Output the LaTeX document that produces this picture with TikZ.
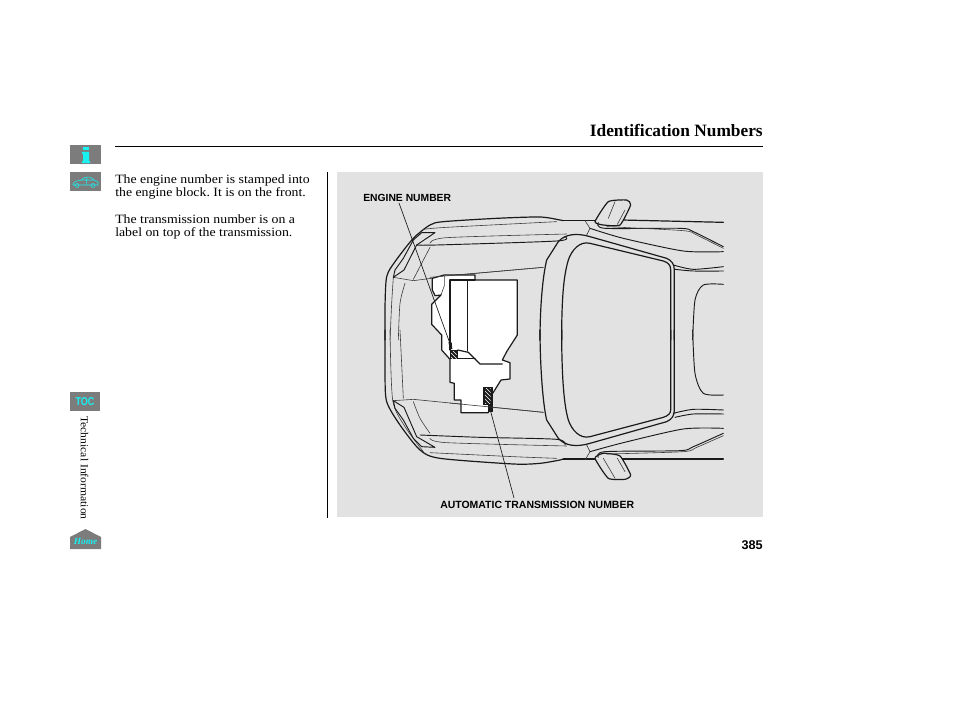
\documentclass[tikz,border=0pt]{standalone}
\usepackage{fontspec}
\setmainfont{Liberation Serif}
\newfontfamily\bodyfont[FakeStretch=1.09]{Liberation Serif}
\newfontfamily\labelfont{Liberation Sans}
\usetikzlibrary{patterns}
\definecolor{panel}{HTML}{E2E2E2}
\definecolor{icongrey}{HTML}{7C7C7C}
\definecolor{iconcyan}{HTML}{19F0F0}
\definecolor{ink}{HTML}{1A1A1A}
\frenchspacing
\tikzset{
  thickline/.style={draw=ink,line width=.9pt,line join=round,line cap=round},
  midline/.style={draw=ink,line width=.7pt,line join=round,line cap=round},
  thinline/.style={draw=ink!85,line width=.45pt,line join=round,line cap=round},
  leader/.style={draw=ink,line width=.5pt},
  body/.style={anchor=north west,inner sep=0pt,align=left,font=\bodyfont\fontsize{9.5}{10}\selectfont},
  partlabel/.style={inner sep=0pt,font=\labelfont\bfseries\fontsize{7.75}{8}\selectfont},
  icon/.style={fill=icongrey,draw=none},
  curve/.style={smooth,tension=.45}
}
\begin{document}
\begin{tikzpicture}[x=.75pt,y=-.75pt]
\useasboundingbox[fill=white] (0,0) rectangle (954,710);
\fill[panel] (337,172) rectangle (763,517);
\node[anchor=base east,inner sep=0pt,font=\bfseries\fontsize{13}{14}\selectfont] (title) at (763,137) {Identification Numbers};
\coordinate (ruleL) at (115,146.5); \coordinate (ruleR) at (763,146.5);
\draw[line width=.75pt] (ruleL) -- (ruleR);
\coordinate (vruleT) at (327.5,172); \coordinate (vruleB) at (327.5,518);
\draw[line width=.75pt] (vruleT) -- (vruleB);
\node[body] (p1) at (115,174.5) {The engine number is stamped into\\the engine block. It is on the front.};
\node[body] (p2) at (115,214.5) {The transmission number is on a\\label on top of the transmission.};
\node[anchor=base east,inner sep=0pt,font=\labelfont\bfseries\fontsize{9.5}{11}\selectfont] (page) at (763,549) {385};
% icons
\fill[icon] (70,145) rectangle (101,164);
\fill[iconcyan] (83,147) rectangle (89,150.5);
\fill[iconcyan] (82,152) -- (89,152) -- (89,161) -- (90,161) -- (90,163) -- (82,163) -- (82,161) -- (83,161) -- (83,154) -- (82,154) -- cycle;
\fill[icon] (70,172) rectangle (101,191);
\draw[iconcyan,line width=.4pt] (73,185) .. controls (73,181) and (78,181) .. (81,180) .. controls (85,176) and (91,176) .. (94,180) -- (98,182) -- (98,185) -- cycle;
\draw[iconcyan,line width=.4pt] (77,185.5) circle (2) (93,185.5) circle (2) (81,180) -- (94,180) (87,177) -- (86,185);
\fill[icon] (70,392) rectangle (100,411);
\node[inner sep=0pt,text=iconcyan,yscale=1.25,font=\labelfont\bfseries\fontsize{6.8}{8}\selectfont] (toc) at (85,401.5) {TOC};
\node[rotate=-90,inner sep=0pt,font=\bodyfont\fontsize{8}{9}\selectfont] (side) at (84.5,468) {Technical Information};
\fill[icon] (70,537) -- (85.5,529) -- (101,537) -- (101,549) -- (70,549) -- cycle;
\node[inner sep=0pt,text=iconcyan,font=\bfseries\itshape\fontsize{7}{8}\selectfont] (home) at (85.5,541) {Home};

% ---- left half, upper (zoom origin 380,190)
\begin{scope}[shift={(380,190)},scale=1/3]
\draw[thickline] plot[curve] coordinates {(15,450) (15,350) (20,260) (45,215) (100,145) (150,105) (190,95) (350,85) (480,81) (540,90) (550,92)};
\draw[thinline] plot[curve] coordinates {(30,450) (35,340) (40,262)};
\draw[thinline] plot[curve] coordinates {(55,450) (60,340) (75,280)};
\draw[thinline] (40,262) -- (100,272) -- (230,255) -- (490,232);
\draw[midline] (40,262) -- (72,240) -- (110,165) -- (165,128) -- (125,128) -- (100,150) -- (70,205) -- (45,240) -- (40,262);
\draw[thinline] (100,268) -- (150,172);
\draw[midline] plot[curve] coordinates {(110,165) (170,165) (530,153) (555,140)};
\draw[thinline] plot[curve] coordinates {(150,160) (200,143) (560,132)};
\draw[thinline] plot[curve] coordinates {(130,118) (200,112) (530,95)};
\end{scope}
% ---- left half, lower (zoom origin 380,330)
\begin{scope}[shift={(380,330)},scale=1/3]
\draw[thickline] plot[curve] coordinates {(15,0) (15,130) (20,215) (60,285) (120,360) (180,385) (400,402) (480,400) (540,390) (550,387)};
\draw[thinline] plot[curve] coordinates {(30,0) (38,210) (75,290) (130,365)};
\draw[thinline] plot[curve] coordinates {(60,0) (70,205)};
\draw[thinline] (40,212) -- (100,208) -- (490,247);
\draw[midline] (40,212) -- (72,232) -- (110,320) -- (165,352) -- (125,350) -- (100,325) -- (70,270) -- (45,235) -- (40,212);
\draw[thinline] plot[curve] coordinates {(100,215) (120,265) (150,310)};
\draw[midline] plot[curve] coordinates {(120,315) (300,322) (530,328) (555,345)};
\draw[thinline] plot[curve] coordinates {(150,325) (200,338) (560,348)};
\draw[thinline] plot[curve] coordinates {(150,368) (400,380) (530,385)};
\end{scope}
% ---- right half, upper (zoom origin 540,190)
\begin{scope}[shift={(540,190)},scale=1/3]
\draw[thickline] (0,450) .. controls (0,350) and (8,260) .. (20,210) -- (55,155) .. controls (75,132) and (110,128) .. (150,140) -- (380,205) .. controls (395,212) and (403,222) .. (403,240) -- (403,450);
\draw[thickline] (65,450) .. controls (65,330) and (70,260) .. (85,210) .. controls (95,180) and (120,152) .. (150,160) -- (370,213) .. controls (385,218) and (392,225) .. (392,240) -- (392,450);
\draw[thickline] (70,92) -- (165,92);
\draw[thickline] (245,90) -- (550,97);
\draw[thickline,fill=panel] plot[smooth cycle,tension=.3] coordinates {(165,95) (205,35) (260,30) (272,45) (240,105) (190,105)};
\draw[thinline] (225,35) -- (205,85);
\draw[thinline] (255,60) -- (232,103);
\draw[thinline] (135,92) -- (150,115) -- (140,135);
\draw[midline] plot[curve] coordinates {(175,98) (195,115) (420,115) (460,125) (550,170)};
\draw[thinline] plot[curve] coordinates {(200,110) (430,122) (470,135) (550,175)};
\draw[midline] plot[curve] coordinates {(150,115) (250,145) (430,183) (550,185)};
\draw[midline] plot[curve] coordinates {(400,225) (460,238) (550,230)};
\draw[midline] plot[curve] coordinates {(405,238) (460,243) (550,243)};
\draw[midline] plot[curve] coordinates {(458,450) (465,330) (490,285) (550,283)};
\end{scope}
% ---- right half, lower (zoom origin 540,330)
\begin{scope}[shift={(540,330)},scale=1/3]
\draw[thickline] (0,0) .. controls (0,100) and (8,220) .. (20,270) -- (55,325) .. controls (75,348) and (110,352) .. (150,340) -- (380,275) .. controls (395,268) and (403,258) .. (403,240) -- (403,0);
\draw[thickline] (65,0) .. controls (65,120) and (70,220) .. (85,270) .. controls (95,300) and (120,328) .. (150,320) -- (370,262) .. controls (385,257) and (392,250) .. (392,240) -- (392,0);
\draw[thickline] (70,387) -- (550,387);
\draw[thickline,fill=panel] plot[smooth cycle,tension=.3] coordinates {(165,385) (205,445) (255,448) (272,435) (240,378) (190,370)};
\draw[thinline] (190,385) -- (225,445);
\draw[thinline] (232,385) -- (255,425);
\draw[thinline] (135,390) -- (150,365) -- (140,345);
\draw[midline] plot[curve] coordinates {(175,382) (195,365) (420,362) (460,350) (550,310)};
\draw[thinline] plot[curve] coordinates {(200,372) (430,365) (470,352) (550,317)};
\draw[midline] plot[curve] coordinates {(150,365) (250,338) (430,297) (550,295)};
\draw[midline] plot[curve] coordinates {(400,250) (460,238) (550,240)};
\draw[midline] plot[curve] coordinates {(405,262) (460,252) (550,252)};
\draw[midline] plot[curve] coordinates {(458,0) (465,130) (490,190) (550,195)};
\end{scope}
% ---- engine and transmission (zoom origin 425,265)
\begin{scope}[shift={(425,265)},scale=1/3]
\draw[thickline,fill=white] (58,30) -- (150,30) -- (150,45) -- (277,45) -- (277,210) -- (245,260) -- (232,285) -- (255,293) -- (255,342) -- (228,345) -- (200,390) -- (190,443) -- (108,443) -- (108,405) -- (88,405) -- (88,355) -- (75,352) -- (75,283) -- (50,255) -- (50,210) -- (20,178) -- (20,118) -- (48,90) -- (30,92) -- (22,75) -- (22,40) -- cycle;
\draw[thickline] (75,255) -- (75,45) -- (150,45);
\draw[thickline] (127,45) -- (127,258);
\draw[thinline] (58,33) -- (58,62) -- (48,90);
\draw[thickline] (98,255) -- (130,262) -- (165,297) -- (232,297);
\draw[thickline] (98,281) -- (150,281);
\fill[ink] (75,255) rectangle (98,283);
\fill[pattern=north west lines,pattern color=white] (78,259) rectangle (95,280);
\fill[ink] (175,365) rectangle (203,420);
\fill[pattern=north west lines,pattern color=white] (180,369) rectangle (197,416);
\fill[ink] (190,420) rectangle (203,440);
\fill[ink] (70,232) -- (80,232) -- (82,252) -- (76,252) -- cycle;
\end{scope}
% hood lines pass over the engine outline
\begin{scope}[shift={(380,330)},scale=1/3]
\draw[thinline] (210,219) -- (490,247);
\end{scope}
\begin{scope}[shift={(380,190)},scale=1/3]
\draw[thinline] (150,262) -- (490,232);
\end{scope}
% labels and leaders
\node[partlabel,anchor=west] (engine) at (363,198) {ENGINE NUMBER};
\node[partlabel,anchor=west,font=\labelfont\bfseries\fontsize{7.85}{8}\selectfont] (trans) at (440,505) {AUTOMATIC TRANSMISSION NUMBER};
\coordinate (engtip) at (450.5,345);
\coordinate (transtip) at (490,409);
\draw[leader] (399,203) -- (engtip);
\draw[leader] (transtip) -- (514,498);
\end{tikzpicture}
\end{document}
